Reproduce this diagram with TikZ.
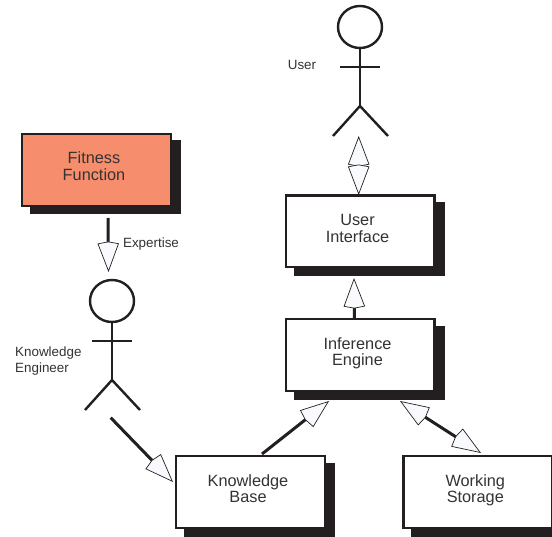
\documentclass[tikz,border=0pt]{standalone}
\usepackage{fontspec}
\setmainfont{Liberation Sans}
\usetikzlibrary{arrows.meta,positioning,shadows,shapes.geometric}
\definecolor{salmon}{HTML}{F68D6C}
\definecolor{inkblack}{HTML}{231F20}
\definecolor{tipwhite}{HTML}{F8FAFD}
\definecolor{labelgrey}{HTML}{333333}
\newcommand{\boxtext}[2]{\begin{tabular}{@{}c@{\hspace{5pt}}}#1\\#2\\[2pt]\end{tabular}}
\tikzset{
  hollow/.tip={Kite[open,fill=tipwhite,length=30.5pt,width=21.5pt,inset=2pt,line width=0.7pt]},
  pics/actor/.style={code={
    \node[head] (-head) at (0,0) {};
    \draw[limb] (-head.south) -- (0,79) coordinate (-hip);
    \draw[limb] (-20,40) -- (20,40);
    \draw[limb] (-27,109) -- (-hip) -- (28,109);
  }}
}
\begin{document}
\begin{tikzpicture}[x=1pt, y=-1pt, node distance=52pt,
    box/.style = {draw=inkblack, line width=2.4pt, fill=white, minimum width=148.6pt, minimum height=71.6pt, inner sep=0pt, outer sep=0pt, text=labelgrey, font=\fontsize{16.3}{16.7}\selectfont,
      drop shadow={shadow xshift=9pt, shadow yshift=-7.5pt, opacity=1, fill=inkblack, draw=inkblack}},
    head/.style = {draw=inkblack, line width=2.4pt, ellipse, minimum width=44pt, minimum height=42pt, inner sep=0pt, outer sep=0pt},
    limb/.style = {draw=inkblack, line width=2.4pt},
    link/.style = {draw=inkblack, line width=3pt},
    caption/.style = {text=labelgrey, font=\fontsize{13.4}{15.5}\selectfont, inner sep=0pt, align=left}]
  \useasboundingbox (0,0) rectangle (552,537);

  % boxes
  \node[box, fill=salmon] (fitness) at (96.5,170) {\boxtext{Fitness}{Function}};
  \node[box] (ui) at (360,231.5) {\boxtext{User}{Interface}};
  \node[box] (engine) [below=of ui] {\boxtext{Inference}{Engine}};
  \node[box] (kb) at (250.5,492) {\boxtext{Knowledge}{Base}};
  \node[box] (storage) [right=78.7pt of kb] {\boxtext{Working}{Storage}};

  % people
  \pic (user) at (360,27) {actor};
  \pic (engineer) at (112,301) {actor};

  % labels
  \node[caption] (userlabel) at (302,64.5) {User};
  \node[caption] (expertise) at (151,244) {Expertise};
  \node[caption, anchor=west] (engineerlabel) at (15,361) {Knowledge\\Engineer};

  % connector ends
  \coordinate (fitnessout) at (108,218);
  \coordinate (engineerin) at (108.5,272);
  \coordinate (userout) at (358.7,136);
  \coordinate (uiin) at (358.7,195);
  \coordinate (uiout) at (354,278);
  \coordinate (engineout) at (354.5,319);
  \coordinate (engineerout) at (110.7,417.7);
  \coordinate (kbin) at (173,482);
  \coordinate (kbout) at (262,454);
  \coordinate (enginein) at (329,401);
  \coordinate (enginestore) at (400,401);
  \coordinate (storagein) at (481,453);

  \draw[link, -hollow] (fitnessout) -- (engineerin);
  \draw[link, hollow-hollow] (userout) -- (uiin);
  \draw[link, -hollow] (engineout) -- (uiout);
  \draw[link, -hollow] (engineerout) -- (kbin);
  \draw[link, -hollow] (kbout) -- (enginein);
  \draw[link, hollow-hollow] (enginestore) -- (storagein);
\end{tikzpicture}
\end{document}
